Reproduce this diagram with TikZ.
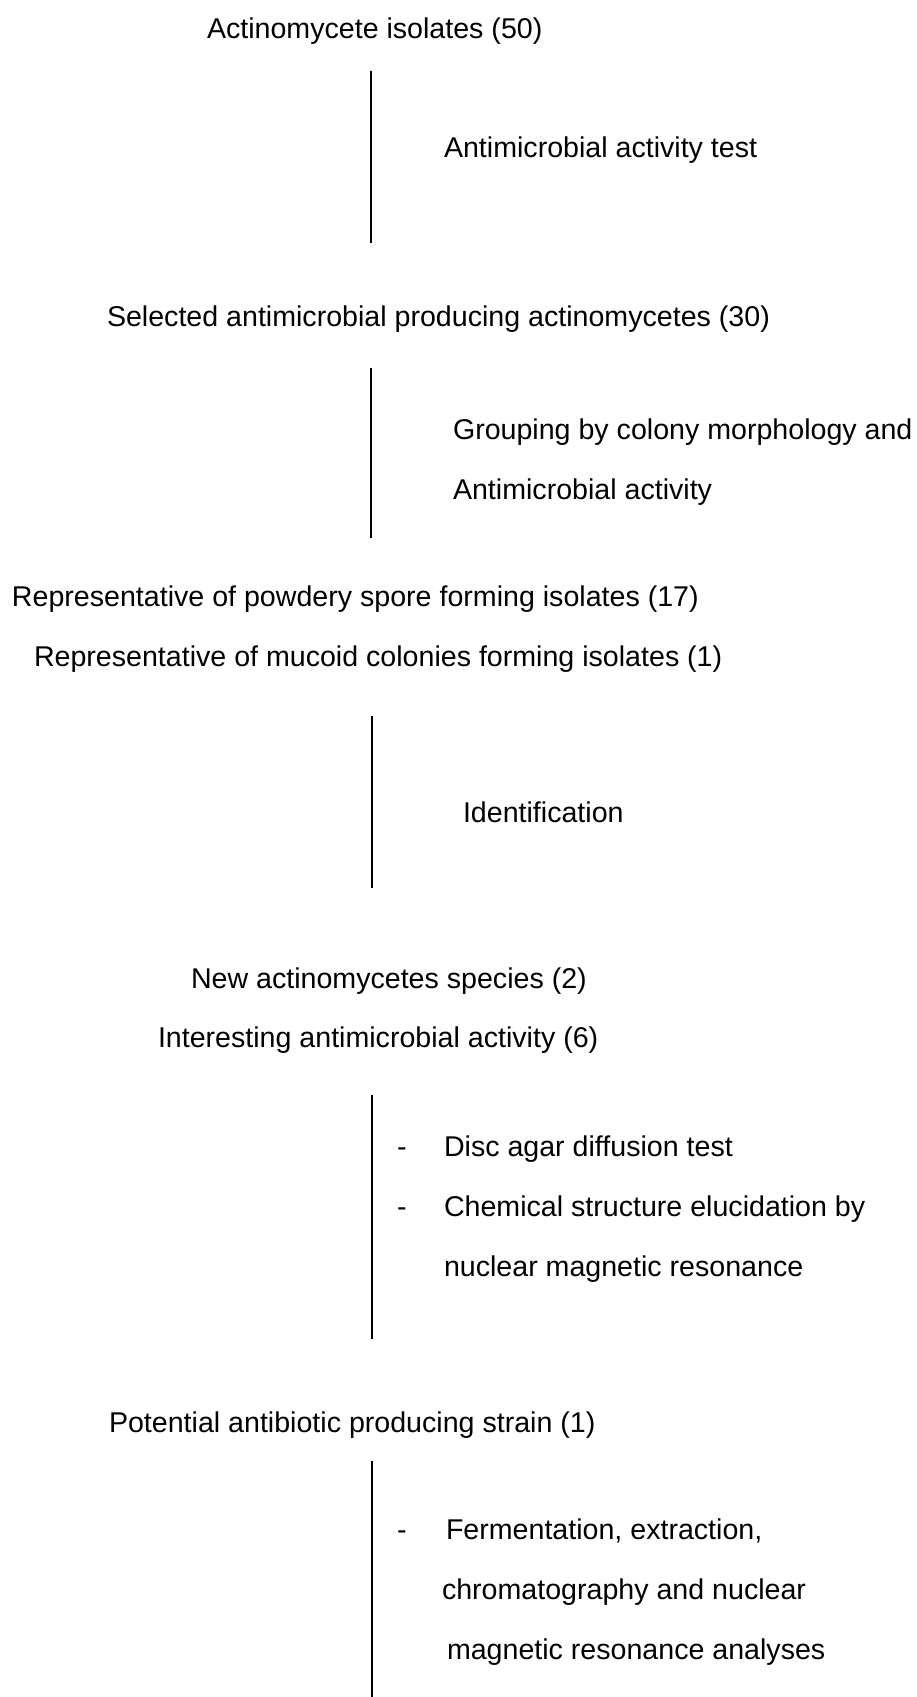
\documentclass[tikz,border=0pt]{standalone}
\usepackage{fontspec}
\setmainfont{Liberation Sans}
\begin{document}
\begin{tikzpicture}[x=1pt,y=-1pt,
  lbl/.style={anchor=base west,inner sep=0pt,outer sep=0pt,font=\fontsize{28.6}{34}\selectfont},
  flowline/.style={line width=1.5pt,black}]
\useasboundingbox[fill=white] (0,0) rectangle (917,1697);
% main stages
\node[lbl] (s1) at (207,38) {Actinomycete isolates (50)};
\node[lbl] (s2) at (107,326) {Selected antimicrobial producing actinomycetes (30)};
\node[lbl] (s3a) at (12,606) {Representative of powdery spore forming isolates (17)};
\node[lbl] (s3b) at (34,666) {Representative of mucoid colonies forming isolates (1)};
\node[lbl] (s4a) at (191,988) {New actinomycetes species (2)};
\node[lbl] (s4b) at (158,1047) {Interesting antimicrobial activity (6)};
\node[lbl] (s5) at (109,1432) {Potential antibiotic producing strain (1)};
% step labels
\node[lbl] (p1) at (444,157) {Antimicrobial activity test};
\node[lbl] (p2a) at (453,439) {Grouping by colony morphology and};
\node[lbl] (p2b) at (453,499) {Antimicrobial activity};
\node[lbl] (p3) at (463,822) {Identification};
\node[lbl] (d4a) at (397,1156) {-};
\node[lbl] (p4a) at (444,1156) {Disc agar diffusion test};
\node[lbl] (d4b) at (397,1216) {-};
\node[lbl] (p4b) at (444,1216) {Chemical structure elucidation by};
\node[lbl] (p4c) at (444,1276) {nuclear magnetic resonance};
\node[lbl] (d5a) at (397,1539) {-};
\node[lbl] (p5a) at (446,1539) {Fermentation, extraction,};
\node[lbl] (p5b) at (442,1599) {chromatography and nuclear};
\node[lbl] (p5c) at (447,1659) {magnetic resonance analyses};
% connector end points
\coordinate (l1t) at (371,71);   \coordinate (l1b) at (371,243);
\coordinate (l2t) at (371,368);  \coordinate (l2b) at (371,538);
\coordinate (l3t) at (372,716);  \coordinate (l3b) at (372,888);
\coordinate (l4t) at (372,1095); \coordinate (l4b) at (372,1339);
\coordinate (l5t) at (372,1461); \coordinate (l5b) at (372,1697);
\draw[flowline] (l1t) -- (l1b);
\draw[flowline] (l2t) -- (l2b);
\draw[flowline] (l3t) -- (l3b);
\draw[flowline] (l4t) -- (l4b);
\draw[flowline] (l5t) -- (l5b);
\end{tikzpicture}
\end{document}
